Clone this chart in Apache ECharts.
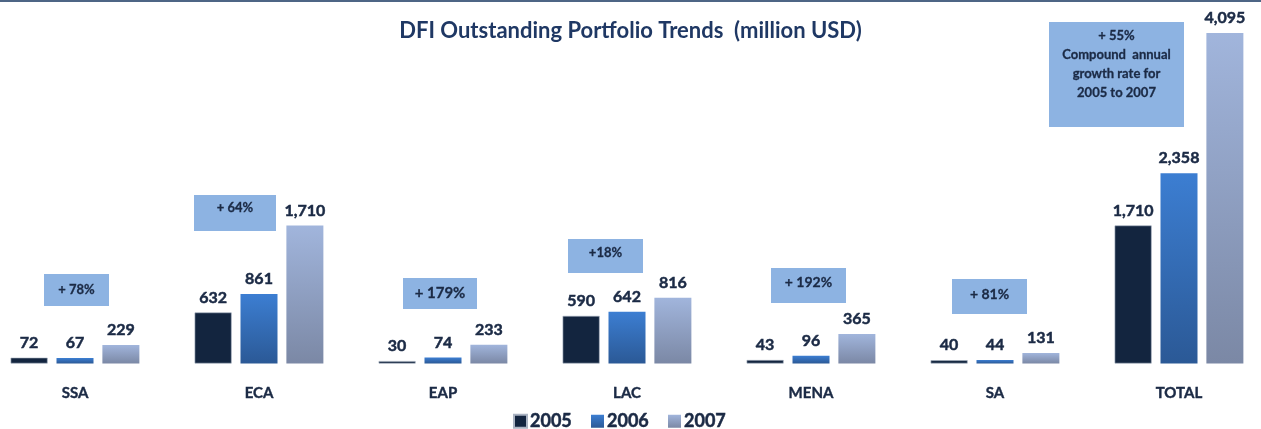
<!DOCTYPE html>
<html>
<head>
<meta charset="utf-8">
<script src="https://cdn.jsdelivr.net/npm/echarts@6/dist/echarts.min.js"></script>
<style>
  html, body { margin: 0; padding: 0; background: #fff; }
  #chart { width: 1261px; height: 429px; }
</style>
</head>
<body>
<div id="chart"></div>
<script>
const categories = ['SSA', 'ECA', 'EAP', 'LAC', 'MENA', 'SA', 'TOTAL'];
const values2005 = [72, 632, 30, 590, 43, 40, 1710];
const values2006 = [67, 861, 74, 642, 96, 44, 2358];
const values2007 = [229, 1710, 233, 816, 365, 131, 4095];
const growthNotes = ['+ 78%', '+ 64%', '+ 179%', '+18%', '+ 192%', '+ 81%',
  '+ 55%\nCompound  annual\ngrowth rate for\n2005 to 2007'];

const FONT = 'Lato, "Open Sans", sans-serif';
const TEXT = '#1b2a45';
const BOX = '#8db3e2';

const chart = echarts.init(document.getElementById('chart'));

// vertical gradient per bar, top colour -> bottom colour
const grad = (top, bottom) => new echarts.graphic.LinearGradient(0, 0, 0, 1, [
  { offset: 0, color: top },
  { offset: 1, color: bottom },
]);

const valueLabel = {
  show: true,
  position: 'top',
  distance: 7,
  fontFamily: FONT,
  fontWeight: 'bold',
  fontSize: 16,
  color: TEXT,
  textBorderColor: TEXT,
  textBorderWidth: 0.5,
  formatter: p => p.value.toLocaleString('en-US'),
};

// annotation box: [x, y, w, h, fontSize, text y offset]
const boxes = [
  [44, 274, 65, 32, 13, 0],
  [194, 195, 82, 36, 13, -5],
  [403, 278, 74, 31, 15, 0],
  [568, 239, 75, 34, 13, -3],
  [771, 268, 75, 35, 14, -3],
  [952, 279, 75, 35, 14, -2],
  [1049, 22, 135, 105, 13, -10],
];

const graphic = [
  { type: 'rect', shape: { x: 0, y: 0, width: 1261, height: 2 }, style: { fill: '#4d6585' } },
];
boxes.forEach((b, i) => {
  graphic.push({
    type: 'rect',
    shape: { x: b[0], y: b[1], width: b[2], height: b[3] },
    style: { fill: BOX },
  });
  graphic.push({
    type: 'text',
    x: b[0] + b[2] / 2,
    y: b[1] + b[3] / 2 + b[5],
    style: {
      text: growthNotes[i],
      fontFamily: FONT,
      fontWeight: 'bold',
      fontSize: b[4],
      lineHeight: 19,
      fill: TEXT,
      stroke: TEXT,
      lineWidth: 0.3,
      align: 'center',
      verticalAlign: 'middle',
    },
  });
});

const option = {
  animation: false,
  title: {
    text: 'DFI Outstanding Portfolio Trends  (million USD)',
    left: 'center',
    top: 15,
    textStyle: { fontFamily: FONT, fontWeight: 'bold', fontSize: 22, color: '#1f3864' },
  },
  legend: {
    left: 508,
    top: 407,
    itemWidth: 13,
    itemHeight: 13,
    itemGap: 19,
    icon: 'rect',
    textStyle: {
      fontFamily: FONT, fontWeight: 'bold', fontSize: 18, color: TEXT,
      textBorderColor: TEXT, textBorderWidth: 0.5, padding: [0, 0, 0, -2],
    },
  },
  grid: {
    left: -17, right: -10, top: 33, bottom: 65.5,
    containLabel: false, outerBoundsMode: 'none',
  },
  xAxis: {
    type: 'category',
    data: categories,
    axisLine: { show: false },
    axisTick: { show: false },
    axisLabel: {
      margin: 22, fontFamily: FONT, fontWeight: 'bold', fontSize: 15, color: TEXT,
      textBorderColor: TEXT, textBorderWidth: 0.4,
    },
  },
  yAxis: { type: 'value', min: 0, max: 4095, show: false, splitLine: { show: false } },
  series: [
    {
      name: '2005', type: 'bar', data: values2005, barWidth: 37, barGap: '24%',
      itemStyle: { color: '#13253f', borderColor: '#aab3c2', borderWidth: 0.6 },
      label: valueLabel,
    },
    {
      name: '2006', type: 'bar', data: values2006, barWidth: 37,
      itemStyle: { color: grad('#3c7ed2', '#2b5996') },
      label: valueLabel,
    },
    {
      name: '2007', type: 'bar', data: values2007, barWidth: 37,
      itemStyle: { color: grad('#a1b5dc', '#7b88a5') },
      label: valueLabel,
    },
  ],
  graphic: graphic,
};

chart.setOption(option);
</script>
</body>
</html>
